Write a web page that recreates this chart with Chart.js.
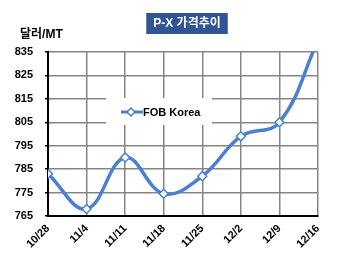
<!DOCTYPE html>
<html>
<head>
<meta charset="utf-8">
<script src="https://cdn.jsdelivr.net/npm/chart.js@4/dist/chart.umd.min.js"></script>
<style>
  html, body { margin: 0; padding: 0; background: #fff; }
  #wrap { width: 350px; height: 267px; }
</style>
</head>
<body>
<div id="wrap"><canvas id="pxChart" width="350" height="267"></canvas></div>
<script>
// P-X price trend (FOB Korea)
const weeks = ["10/28", "11/4", "11/11", "11/18", "11/25", "12/2", "12/9", "12/16"];
const fobKorea = [783, 768, 790, 774.5, 782, 799, 805, 840];
const yTicks = [765, 775, 785, 795, 805, 815, 825, 835];

const FONT = "Arial, 'Liberation Sans', 'Noto Sans CJK KR', sans-serif";
const LINE_BLUE = "#4a80d4";

// title box, unit label and the in-plot legend
const decorations = {
    id: "decorations",
    afterDraw(chart) {
        const ctx = chart.ctx;
        const area = chart.chartArea;
        ctx.save();

        // title in a dark blue box
        ctx.font = "bold 12px " + FONT;
        const title = "P-X 가격추이";
        const tw = ctx.measureText(title).width;
        const cx = 187;
        ctx.fillStyle = "#2f5597";
        ctx.fillRect(cx - tw / 2 - 7, 13, tw + 14, 21);
        ctx.fillStyle = "#fff";
        ctx.textAlign = "center";
        ctx.textBaseline = "middle";
        ctx.fillText(title, cx, 24);

        // unit label
        ctx.fillStyle = "#000";
        ctx.textAlign = "left";
        ctx.fillText("달러/MT", 20, 35);

        // legend
        const ds = chart.data.datasets[0];
        const lx = area.left + 58, ly = area.top + 60;
        ctx.fillStyle = "#fff";
        ctx.fillRect(lx, ly - 14, 106, 27);
        ctx.strokeStyle = ds.borderColor;
        ctx.lineWidth = 3;
        ctx.beginPath();
        ctx.moveTo(lx + 15, ly);
        ctx.lineTo(lx + 37, ly);
        ctx.stroke();
        const mx = lx + 25, r = 4;
        ctx.fillStyle = "#fff";
        ctx.lineWidth = 1.5;
        ctx.beginPath();
        ctx.moveTo(mx, ly - r);
        ctx.lineTo(mx + r, ly);
        ctx.lineTo(mx, ly + r);
        ctx.lineTo(mx - r, ly);
        ctx.closePath();
        ctx.fill();
        ctx.stroke();
        ctx.fillStyle = "#000";
        ctx.font = "bold 11px " + FONT;
        ctx.textBaseline = "middle";
        ctx.fillText(ds.label, lx + 37, ly + 1);

        ctx.restore();
    }
};

const ctx = document.getElementById("pxChart").getContext("2d");
new Chart(ctx, {
    type: "line",
    data: {
        labels: weeks,
        datasets: [{
            label: "FOB Korea",
            data: fobKorea,
            borderColor: LINE_BLUE,
            borderWidth: 3.5,
            tension: 0.4,
            pointStyle: "rectRot",
            pointRadius: 4.5,
            pointBorderWidth: 1.5,
            pointBackgroundColor: "#fff",
            pointBorderColor: LINE_BLUE,
            clip: 0
        }]
    },
    options: {
        responsive: false,
        animation: false,
        devicePixelRatio: 1,
        layout: { padding: { top: 52, right: 32, left: 0, bottom: 0 } },
        plugins: {
            legend: { display: false },
            title: { display: false },
            tooltip: { enabled: false }
        },
        scales: {
            x: {
                offset: false,
                grid: { color: "#858585", lineWidth: 1.5, drawTicks: false },
                border: { color: "#000", width: 2 },
                ticks: {
                    color: "#000",
                    font: { family: FONT, size: 11, weight: "bold" },
                    maxRotation: 45,
                    minRotation: 45,
                    padding: 6,
                    autoSkip: false
                },
                afterFit(scale) { scale.height = 51; }
            },
            y: {
                min: 765,
                max: 835,
                afterBuildTicks(scale) {
                    scale.ticks = yTicks.map(v => ({ value: v }));
                },
                grid: { color: "#858585", lineWidth: 1.5, tickColor: "#000", tickLength: 3 },
                border: { color: "#000", width: 2 },
                ticks: {
                    color: "#000",
                    font: { family: FONT, size: 11, weight: "bold" },
                    padding: 12
                },
                afterFit(scale) { scale.width = 48; }
            }
        }
    },
    plugins: [decorations]
});
</script>
</body>
</html>
